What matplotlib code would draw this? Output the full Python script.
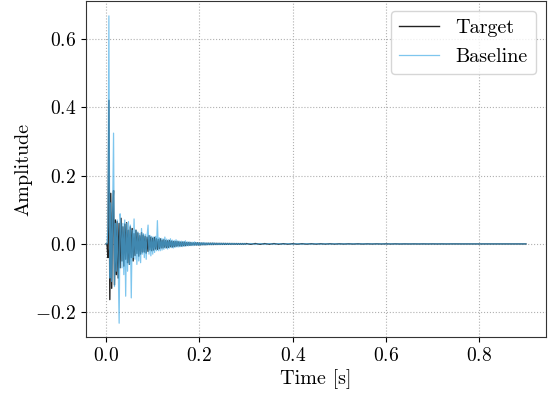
import numpy as np
import matplotlib
matplotlib.use("Agg")
import matplotlib.pyplot as plt

plt.rcParams['font.family'] = 'serif'
plt.rcParams['font.serif'] = ['cmr10']
plt.rcParams['mathtext.fontset'] = 'cm'
plt.rcParams['axes.formatter.use_mathtext'] = True
plt.rcParams['axes.unicode_minus'] = True

# sample grid: 2 ms steps for the first 0.3 s, then 10 ms steps to 0.9 s
dt_early = 0.002
n_early = 150
dt_late = 0.01
n_late = 61

target_early = [
    0, 0, -0.04, 0.42, -0.163, 0.148, -0.13, 0.09, 0.156, -0.12,
    0.07, -0.09, 0.065, -0.10, 0.06, -0.07, 0.075, -0.05, 0.05, -0.065,
    0.058, -0.045, 0.062, -0.055, 0.04, -0.06, 0.05, -0.04, 0.045, -0.05,
    0.03, -0.034, 0.04, -0.028, 0.032, -0.036, 0.024, -0.03, 0.033, -0.024,
    0.026, -0.024, 0.022, -0.027, 0.02, -0.022, 0.024, -0.018, 0.02, -0.02,
    0.017, -0.018, 0.019, -0.015, 0.015, -0.016, 0.013, -0.014, 0.015, -0.012,
    0.011, -0.012, 0.012, -0.01, 0.01, -0.011, 0.009, -0.01, 0.01, -0.008,
    0.008, -0.009, 0.007, -0.008, 0.007, -0.007, 0.007, -0.006, 0.006, -0.006,
    0.005, -0.006, 0.005, -0.005, 0.005, -0.005, 0.004, -0.004, 0.004, -0.004,
    0.004, -0.004, 0.003, -0.003, 0.003, -0.003, 0.003, -0.003, 0.003, -0.003,
    0.0025, -0.003, 0.0025, -0.0025, 0.0025, -0.0025, 0.002, -0.0025, 0.002, -0.002,
    0.002, -0.002, 0.002, -0.002, 0.002, -0.002, 0.0018, -0.0018, 0.0018, -0.0018,
    0.0016, -0.0016, 0.0016, -0.0016, 0.0015, -0.0015, 0.0015, -0.0015, 0.0014, -0.0014,
    0.0013, -0.0013, 0.0013, -0.0013, 0.0012, -0.0012, 0.0012, -0.0012, 0.0011, -0.0011,
    0.0011, -0.0011, 0.001, -0.001, 0.001, -0.001, 0.001, -0.001, 0.001, -0.001,
]

baseline_early = [
    0, 0, 0.05, 0.667, -0.10, 0.12, -0.11, 0.08, 0.324, -0.125,
    0.06, -0.08, 0.07, -0.06, -0.232, 0.088, 0.05, -0.07, 0.06, -0.09,
    0.07, -0.153, 0.06, -0.08, 0.065, -0.06, 0.055, -0.158, 0.04, -0.04,
    0.073, -0.045, 0.04, -0.06, 0.035, -0.05, 0.03, -0.055, 0.045, -0.03,
    0.03, -0.04, 0.028, -0.045, 0.025, 0.055, -0.03, 0.025, -0.035, 0.022,
    -0.03, 0.02, -0.025, 0.022, -0.02, 0.068, -0.02, 0.018, -0.02, 0.016,
    -0.018, 0.015, -0.016, 0.02, -0.013, 0.014, -0.015, 0.012, -0.012, 0.015,
    -0.011, 0.011, -0.012, 0.01, -0.01, 0.012, -0.009, 0.009, -0.009, 0.008,
    -0.008, 0.008, -0.008, 0.007, -0.007, 0.009, -0.006, 0.006, -0.006, 0.006,
    -0.005, 0.005, -0.005, 0.005, -0.005, 0.006, -0.004, 0.004, -0.004, 0.004,
    -0.004, 0.0035, -0.0035, 0.0035, -0.003, 0.004, -0.003, 0.003, -0.003, 0.003,
    -0.0025, 0.0025, -0.0025, 0.0025, -0.0025, 0.003, -0.002, 0.002, -0.002, 0.002,
    -0.002, 0.002, -0.002, 0.002, -0.0018, 0.0018, -0.0018, 0.0018, -0.0016, 0.0016,
    -0.0016, 0.0016, -0.0015, 0.0015, -0.0015, 0.0015, -0.0014, 0.0014, -0.0013, 0.0013,
    -0.0013, 0.0013, -0.0012, 0.0012, -0.0012, 0.0012, -0.0011, 0.0011, -0.001, 0.001,
]

target_late = [
    0.001, -0.001, 0.001, -0.001, 0.0008, -0.0008, 0.0008, -0.0008, 0.0006, -0.0006,
    0.0006, -0.0006, 0.0005, -0.0005, 0.0005, -0.0005, 0.0004, -0.0004, 0.0004, -0.0004,
    0.0003, -0.0003, 0.0003, -0.0003, 0.0003, -0.0003, 0.0002, -0.0002, 0.0002, -0.0002,
    0.0002, -0.0002, 0.0002, -0.0002, 0.0001, -0.0001, 0.0001, -0.0001, 0.0001, -0.0001,
    0.0001, -0.0001, 0.0001, -0.0001, 0.0001, -0.0001, 0, 0, 0, 0,
    0, 0, 0, 0, 0, 0, 0, 0, 0, 0, 0,
]

baseline_late = [
    -0.001, 0.001, -0.001, 0.001, -0.0009, 0.0009, -0.0008, 0.0008, -0.0007, 0.0007,
    -0.0007, 0.0006, -0.0006, 0.0006, -0.0005, 0.0005, -0.0005, 0.0004, -0.0004, 0.0004,
    -0.0004, 0.0003, -0.0003, 0.0003, -0.0003, 0.0003, -0.0002, 0.0002, -0.0002, 0.0002,
    -0.0002, 0.0002, -0.0002, 0.0001, -0.0001, 0.0001, -0.0001, 0.0001, -0.0001, 0.0001,
    -0.0001, 0.0001, -0.0001, 0.0001, -0.0001, 0, 0, 0, 0, 0,
    0, 0, 0, 0, 0, 0, 0, 0, 0, 0, 0,
]

t = np.concatenate([np.arange(n_early) * dt_early,
                    n_early * dt_early + np.arange(n_late) * dt_late])
target = np.array(target_early + target_late)
baseline = np.array(baseline_early + baseline_late)

fig = plt.figure(figsize=(5.52, 3.94), dpi=100)
ax = fig.add_axes([0.155, 0.145, 0.834, 0.852])

ax.plot(t, target, color='#222222', lw=1.0, label='Target', zorder=2)
ax.plot(t, baseline, color='#4db0e8', lw=0.9, alpha=0.72, label='Baseline', zorder=3)

ax.grid(True, linestyle=':', color='#b0b0b0', linewidth=0.8)
ax.set_axisbelow(True)
ax.set_xlabel('Time [s]', fontsize=14.5, labelpad=3)
ax.set_ylabel('Amplitude', fontsize=14.5, labelpad=2)
ax.tick_params(labelsize=14)
ax.set_xticks([0.0, 0.2, 0.4, 0.6, 0.8])
ax.set_yticks([-0.2, 0.0, 0.2, 0.4, 0.6])
ax.set_xlim(-0.044, 0.943)
ax.set_ylim(-0.272, 0.71)
for s in ax.spines.values():
    s.set_color('#333333')
leg = ax.legend(loc='upper right', fontsize=14.5, framealpha=0.8, edgecolor='#cccccc')

fig.savefig('out.png', dpi=100)
